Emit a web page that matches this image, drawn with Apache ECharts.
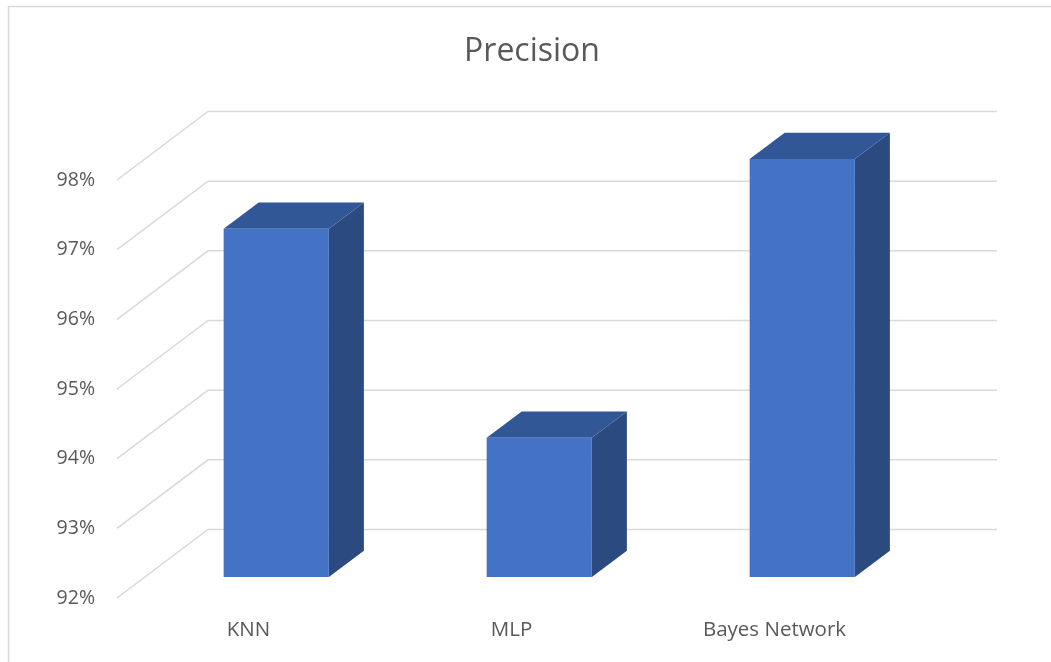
<!DOCTYPE html>
<html>
<head>
    <meta charset="utf-8" />
    <title>Precision</title>
    <script src="https://cdn.jsdelivr.net/npm/echarts@6/dist/echarts.min.js"></script>
    <style>
        html, body { margin: 0; padding: 0; background: #fff; }
        #main { width: 1051px; height: 662px; }
    </style>
</head>
<body>
    <div id="main"></div>
<script>
    // chart data
    var categories = ['KNN', 'MLP', 'Bayes Network'];
    var precision = [97, 94, 98];
    var yTicks = [92, 93, 94, 95, 96, 97, 98];

    // 3d look: depth of the floor in px, and where the bar sits in it
    var DX = 91, DY = 68.5;
    var D_FRONT = 0.305, D_BACK = 0.69;

    var chart = echarts.init(document.getElementById('main'));

    var option = {
        backgroundColor: '#fff',
        animation: false,
        title: {
            text: 'Precision',
            left: 527,
            top: 31,
            textAlign: 'center',
            textStyle: { color: '#595959', fontSize: 32, fontWeight: 'normal', fontFamily: 'Open Sans' }
        },
        graphic: [{
            type: 'rect',
            shape: { x: 8.5, y: 6.5, width: 1100, height: 700 },
            style: { fill: 'none', stroke: '#d9d9d9', lineWidth: 1.5 },
            silent: true
        }],
        grid: { left: 117, right: 145, top: 180, bottom: 64 },
        xAxis: {
            type: 'category',
            data: categories,
            axisLine: { show: false },
            axisTick: { show: false },
            axisLabel: { color: '#595959', fontSize: 20.5, fontFamily: 'Open Sans', margin: 22 }
        },
        yAxis: {
            type: 'value',
            min: 92,
            max: 98,
            interval: 1,
            splitLine: { show: false },
            axisLabel: { color: '#595959', fontSize: 19.5, fontFamily: 'Open Sans', margin: 22, formatter: '{value}%' }
        },
        series: [
            {
                // side wall + back wall gridlines
                type: 'custom',
                z: 1,
                silent: true,
                data: yTicks.map(function (v) { return [0, v]; }),
                renderItem: function (params, api) {
                    var cs = params.coordSys;
                    var y = api.coord([0, api.value(1)])[1];
                    return {
                        type: 'polyline',
                        shape: { points: [[cs.x, y], [cs.x + DX, y - DY], [cs.x + cs.width + DX, y - DY]] },
                        style: { fill: 'none', stroke: '#d9d9d9', lineWidth: 1.5 }
                    };
                }
            },
            {
                type: 'custom',
                z: 2,
                data: precision.map(function (v, i) { return [i, v]; }),
                renderItem: function (params, api) {
                    var idx = api.value(0);
                    var base = api.coord([idx, 92]);
                    var top = api.coord([idx, api.value(1)]);
                    var w = api.size([1, 0])[0] * 0.4;
                    var x0 = base[0] - w / 2 + DX * D_FRONT;
                    var x1 = x0 + w;
                    var yTop = top[1] - DY * D_FRONT;
                    var yBot = base[1] - DY * D_FRONT;
                    var ox = DX * (D_BACK - D_FRONT), oy = DY * (D_BACK - D_FRONT);
                    return {
                        type: 'group',
                        children: [
                            {
                                type: 'polygon',
                                shape: { points: [[x1, yTop], [x1 + ox, yTop - oy], [x1 + ox, yBot - oy], [x1, yBot]] },
                                style: { fill: '#2b4a80' }
                            },
                            {
                                type: 'polygon',
                                shape: { points: [[x0, yTop], [x1, yTop], [x1 + ox, yTop - oy], [x0 + ox, yTop - oy]] },
                                style: { fill: '#325797' }
                            },
                            {
                                type: 'rect',
                                shape: { x: x0, y: yTop, width: w, height: yBot - yTop },
                                style: { fill: '#4472c4' }
                            }
                        ]
                    };
                }
            }
        ]
    };

    chart.setOption(option);
</script>
</body>
</html>
